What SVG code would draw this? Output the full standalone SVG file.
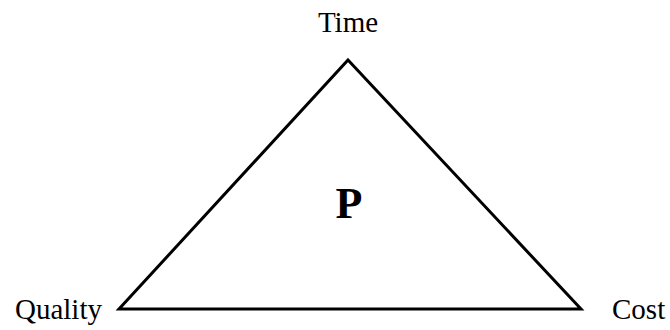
<svg xmlns="http://www.w3.org/2000/svg" width="670" height="330" viewBox="0 0 670 330">
<style>
text{font-family:"Liberation Serif","Times New Roman",serif;fill:#000}
.lbl{font-size:29px}
.edge{stroke:#000;stroke-width:3;fill:none;stroke-linejoin:miter}
</style>
<rect width="670" height="330" fill="#fff"/>
<g id="connectors">
<polygon class="edge" points="348,60 581,309 119,309"/>
</g>
<g id="time"><text class="lbl" x="348" y="32" text-anchor="middle">Time</text></g>
<g id="quality"><text class="lbl" x="102" y="319" text-anchor="end">Quality</text></g>
<g id="cost"><text class="lbl" x="612" y="319">Cost</text></g>
<g id="p"><text x="349" y="218" text-anchor="middle" font-size="44" font-weight="bold">P</text></g>
</svg>
